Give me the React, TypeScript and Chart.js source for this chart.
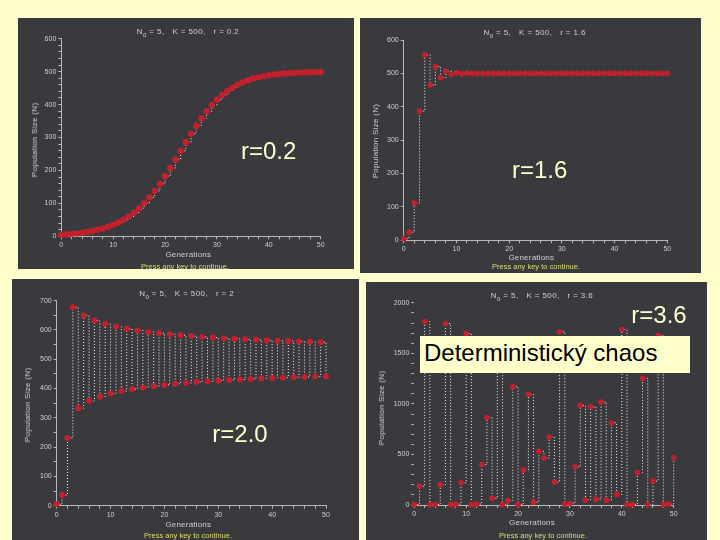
import React, { useEffect, useRef } from 'react';
import { Chart, registerables } from 'chart.js';

Chart.register(...registerables);

// ---- data ----
const GENERATIONS = [
  0, 1, 2, 3, 4, 5, 6, 7, 8, 9, 10, 11, 12, 13, 14, 15, 16, 17, 18, 19, 20, 21, 22, 23, 24, 25,
  26, 27, 28, 29, 30, 31, 32, 33, 34, 35, 36, 37, 38, 39, 40, 41, 42, 43, 44, 45, 46, 47, 48, 49, 50,
];

const N_R02 = [
  5, 6.1, 7.4, 9.0, 11.0, 13.4, 16.3, 19.7, 23.9, 28.9, 34.9, 42.1, 50.5, 60.5, 72.1, 85.5, 101.0,
  118.4, 138.0, 159.5, 182.7, 207.5, 233.2, 259.5, 285.7, 311.3, 335.7, 358.5, 379.4, 398.1, 414.7,
  429.1, 441.4, 451.9, 460.7, 468.0, 474.0, 479.0, 483.0, 486.3, 489.0, 491.1, 492.9, 494.3, 495.4,
  496.3, 497.1, 497.6, 498.1, 498.5, 498.8,
];

const N_R16 = [
  5, 24.4, 111.7, 386.9, 555.6, 465.0, 520.1, 487.7, 507.3, 495.6, 502.6, 498.4, 501.0, 499.4, 500.3,
  499.8, 500.1, 499.9, 500, 500, 500, 500, 500, 500, 500, 500, 500, 500, 500, 500, 500, 500, 500, 500,
  500, 500, 500, 500, 500, 500, 500, 500, 500, 500, 500, 500, 500, 500, 500, 500, 500,
];

const N_R20 = [
  5, 36.2, 231.5, 677.6, 333.0, 649.5, 357.2, 632.4, 372.4, 620.4, 383.3, 611.3, 391.6, 604.2, 398.2,
  598.4, 403.7, 593.4, 408.4, 589.1, 412.5, 585.4, 416.0, 582.1, 419.2, 579.1, 422.1, 576.4, 424.6,
  574.1, 426.9, 571.9, 429.0, 569.9, 430.9, 568.1, 432.7, 566.4, 434.3, 564.8, 435.9, 563.3, 437.3,
  562.0, 438.6, 560.7, 439.8, 559.5, 441.0, 558.4, 442.1,
];

const N_R36 = [
  5, 185, 1815, 3, 5, 200, 1795, 3, 8, 220, 1695, 2, 10, 400, 865, 66, 1560, 2, 45, 1170, 3, 345,
  1095, 28, 530, 465, 672, 227, 1713, 8, 18, 379, 985, 50, 972, 56, 1018, 48, 814, 105, 1736, 3, 6,
  320, 1252, 3, 237, 1677, 3, 10, 468,
];

const R_VALUES = ['0.2', '1.6', '2', '3.6'];
const R_LABELS = ['r=0.2', 'r=1.6', 'r=2.0', 'r=3.6'];
const Y_MAX = [600, 600, 700, 2000];
const Y_STEP = [20, 100, 50, 100];
const Y_LABEL_EVERY = [100, 100, 100, 500];
const CHAOS_LABEL = 'Deterministický chaos';
const X_TITLE = 'Generations';
const Y_TITLE = 'Population Size (N)';
const PRESS = 'Press any key to continue.';

// ---- layout (not data) ----
type Layout = {
  left: number; top: number; w: number; h: number;
  padTop: number; padRight: number; yW: number; xH: number;
  yBorder: boolean; pointR: number;
  titleC: [number, number]; yTitleC: [number, number]; xTitleC: [number, number]; pressC: [number, number];
  rPos: [number, number];
};

const LAYOUTS: Layout[] = [
  { left: 18, top: 18, w: 336, h: 251, padTop: 20.7, padRight: 33.3, yW: 43.3, xH: 32.7, yBorder: true, pointR: 3.2,
    titleC: [170, 14], yTitleC: [16.7, 121.7], xTitleC: [170.3, 237], pressC: [167, 248.7], rPos: [241, 139.3] },
  { left: 360, top: 18, w: 341, h: 255, padTop: 22, padRight: 33.7, yW: 43.7, xH: 32.7, yBorder: true, pointR: 2.8,
    titleC: [174.7, 15], yTitleC: [16.3, 123.3], xTitleC: [171.3, 240], pressC: [176, 249], rPos: [512, 158] },
  { left: 12, top: 279, w: 347, h: 261, padTop: 21.7, padRight: 33, yW: 44.7, xH: 34.3, yBorder: true, pointR: 3,
    titleC: [174.7, 14.7], yTitleC: [16.3, 125.7], xTitleC: [176.3, 245.7], pressC: [176, 256.7], rPos: [212.3, 422.3] },
  { left: 366, top: 282, w: 341, h: 258, padTop: 20.8, padRight: 33.3, yW: 48.3, xH: 35, yBorder: false, pointR: 2.8,
    titleC: [176, 14], yTitleC: [16, 126.3], xTitleC: [166, 240.7], pressC: [177, 254], rPos: [631.3, 303.3] },
];

const SERIES = [N_R02, N_R16, N_R20, N_R36];

const FONT = '"Liberation Sans", Arial, sans-serif';
const PANEL_BG = '#3a3a3e';
const AXIS = '#b8b8b8';
const LABEL = '#cfcfcf';
const RED = '#c4202c';

function Panel({ idx }: { idx: number }) {
  const ref = useRef<HTMLCanvasElement | null>(null);
  const L = LAYOUTS[idx];

  useEffect(() => {
    if (!ref.current) return;
    const values = SERIES[idx];
    const pts = values.map((v, i) => ({ x: GENERATIONS[i], y: v }));
    const yEvery = Y_LABEL_EVERY[idx];
    const chart = new Chart(ref.current, {
      type: 'line',
      data: {
        datasets: [
          {
            data: pts,
            stepped: 'before',
            borderColor: '#f4f4f4',
            borderWidth: 1,
            borderDash: [1, 2],
            pointRadius: L.pointR,
            pointBackgroundColor: RED,
            pointBorderColor: RED,
            pointBorderWidth: 0,
            fill: false,
            clip: false as any,
          } as any,
        ],
      },
      options: {
        animation: false,
        responsive: false,
        events: [],
        layout: { padding: { top: L.padTop, right: L.padRight, left: 0, bottom: 0 } },
        plugins: { legend: { display: false }, tooltip: { enabled: false }, title: { display: false } },
        scales: {
          x: {
            type: 'linear',
            min: 0,
            max: 50,
            afterFit: (s: any) => { s.height = L.xH; },
            ticks: {
              stepSize: 2,
              autoSkip: false,
              maxRotation: 0,
              color: LABEL,
              padding: 2,
              font: { family: FONT, size: 7 },
              callback: (v: any) => (Number(v) % 10 === 0 ? String(v) : ''),
            },
            grid: { drawOnChartArea: false, drawTicks: true, tickLength: 3, color: AXIS },
            border: { display: true, color: AXIS, width: 1 },
          },
          y: {
            type: 'linear',
            min: 0,
            max: Y_MAX[idx],
            afterFit: (s: any) => { s.width = L.yW; },
            ticks: {
              stepSize: Y_STEP[idx],
              autoSkip: false,
              color: LABEL,
              padding: 2,
              font: { family: FONT, size: 7 },
              callback: (v: any) => (Number(v) % yEvery === 0 ? String(v) : ''),
            },
            grid: { drawOnChartArea: false, drawTicks: true, tickLength: 3, color: AXIS },
            border: { display: L.yBorder, color: AXIS, width: 1 },
          },
        },
      } as any,
    });
    return () => chart.destroy();
  }, [idx]);

  const small: React.CSSProperties = {
    position: 'absolute',
    whiteSpace: 'pre',
    fontFamily: FONT,
    fontSize: 8,
    lineHeight: '10px',
    color: LABEL,
    transform: 'translate(-50%, -50%)',
  };

  return (
    <div
      style={{
        position: 'absolute',
        left: L.left,
        top: L.top,
        width: L.w,
        height: L.h,
        background: PANEL_BG,
        overflow: 'hidden',
      }}
    >
      <canvas ref={ref} width={L.w} height={L.h} style={{ position: 'absolute', left: 0, top: 0, width: L.w, height: L.h }} />
      <div style={{ ...small, left: L.titleC[0], top: L.titleC[1], letterSpacing: 0.4 }}>
        N<sub style={{ fontSize: 6, verticalAlign: 'sub', lineHeight: 0 }}>0</sub>{' = 5,   K = 500,   r = ' + R_VALUES[idx]}
      </div>
      <div style={{ ...small, left: L.yTitleC[0], top: L.yTitleC[1], transform: 'translate(-50%, -50%) rotate(-90deg)', letterSpacing: 0.3 }}>
        {Y_TITLE}
      </div>
      <div style={{ ...small, left: L.xTitleC[0], top: L.xTitleC[1], letterSpacing: 0.2 }}>{X_TITLE}</div>
      <div style={{ ...small, left: L.pressC[0], top: L.pressC[1], color: '#dcdc66', fontSize: 7.5 }}>{PRESS}</div>
    </div>
  );
}

export default function App() {
  const big: React.CSSProperties = {
    position: 'absolute',
    fontFamily: FONT,
    fontSize: 24,
    lineHeight: '24px',
    color: '#ffffcc',
    whiteSpace: 'nowrap',
  };
  return (
    <div style={{ position: 'fixed', left: 0, top: 0, width: 720, height: 540, background: '#ffffcc', overflow: 'hidden' }}>
      {[0, 1, 2, 3].map((i) => (
        <Panel key={i} idx={i} />
      ))}
      {R_LABELS.map((t, i) => (
        <div key={t} style={{ ...big, left: LAYOUTS[i].rPos[0], top: LAYOUTS[i].rPos[1] }}>
          {t}
        </div>
      ))}
      <div
        style={{
          position: 'absolute',
          left: 420,
          top: 336,
          width: 270,
          height: 37,
          background: '#ffffcc',
          fontFamily: FONT,
          fontSize: 24,
          lineHeight: '33px',
          color: '#000',
          paddingLeft: 4,
          boxSizing: 'border-box',
          whiteSpace: 'nowrap',
        }}
      >
        {CHAOS_LABEL}
      </div>
    </div>
  );
}
